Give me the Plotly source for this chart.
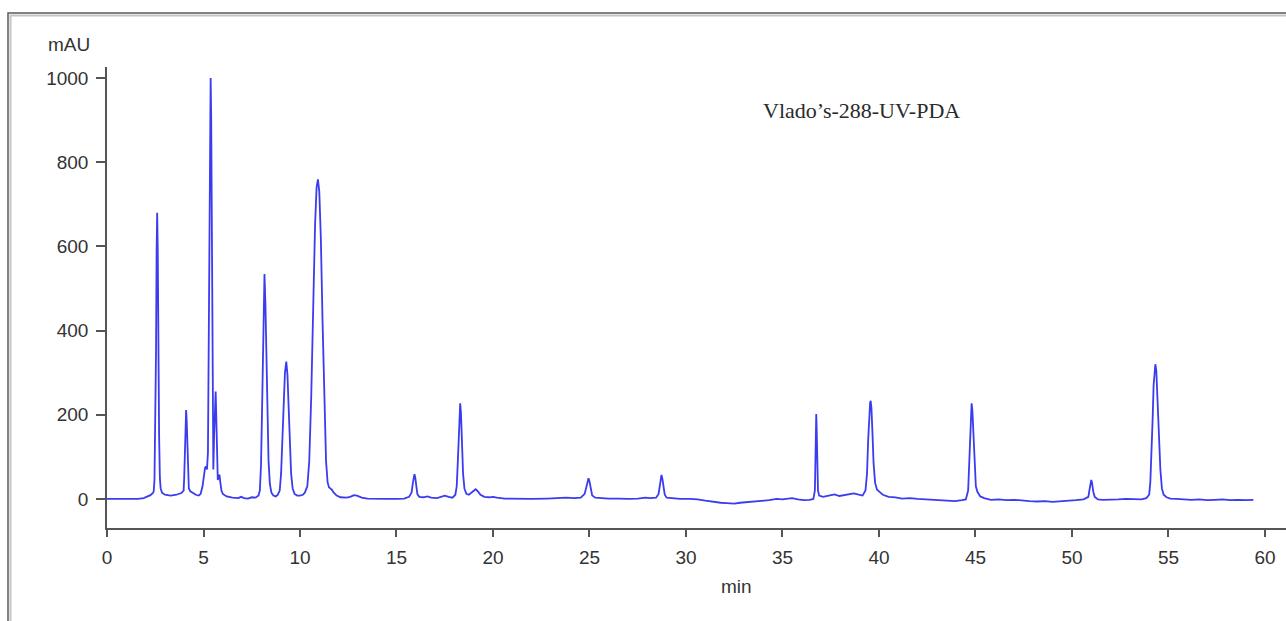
import plotly.graph_objects as go

# Retention time (min) and absorbance (mAU)
time_min = [
    0.0, 0.4, 0.8, 1.2, 1.6, 1.9, 2.1, 2.25, 2.38,
    2.42, 2.46, 2.50, 2.54, 2.57, 2.60, 2.63, 2.66, 2.70, 2.74, 2.78, 2.85, 3.0, 3.3, 3.6, 3.85,
    3.97, 4.00, 4.04, 4.07, 4.10, 4.13, 4.16, 4.20, 4.24, 4.32, 4.45, 4.6, 4.75, 4.85,
    4.95, 5.02, 5.08, 5.13, 5.18, 5.23, 5.27, 5.31, 5.34, 5.37, 5.40, 5.43, 5.47, 5.51, 5.55,
    5.60, 5.63, 5.66, 5.70, 5.74, 5.79, 5.83, 5.87, 5.93, 6.0, 6.2, 6.5, 6.8, 6.95, 7.1, 7.3,
    7.5, 7.7, 7.85,
    7.92, 7.98, 8.03, 8.07, 8.11, 8.16, 8.21, 8.26, 8.31, 8.37, 8.44, 8.52, 8.62, 8.75, 8.85,
    8.95, 9.02, 9.10, 9.16, 9.22, 9.29, 9.35, 9.41, 9.47, 9.54, 9.62, 9.72, 9.85, 10.0, 10.15, 10.25,
    10.38, 10.48, 10.58, 10.68, 10.78, 10.86, 10.93, 11.00, 11.08, 11.17, 11.26, 11.35, 11.43,
    11.50, 11.57, 11.65, 11.75, 11.9, 12.1, 12.4, 12.6, 12.8, 12.95, 13.2, 13.5, 14.0, 14.5,
    15.0, 15.4, 15.65,
    15.78, 15.85, 15.90, 15.93, 15.97, 16.02, 16.08, 16.18, 16.4, 16.6, 16.8, 17.1, 17.35, 17.5,
    17.7, 17.9, 18.05,
    18.12, 18.18, 18.23, 18.27, 18.30, 18.34, 18.39, 18.45, 18.52, 18.62, 18.75, 18.9, 19.0, 19.1,
    19.2, 19.35, 19.55, 19.8, 20.0, 20.2, 20.6, 21.2, 22.0, 22.8, 23.3, 23.8, 24.2, 24.55, 24.75,
    24.84, 24.90, 24.95, 25.00, 25.06, 25.14, 25.3, 25.6, 26.0, 26.5, 27.0, 27.5, 27.9, 28.15,
    28.45, 28.58,
    28.64, 28.69, 28.73, 28.77, 28.83, 28.90, 29.0, 29.3, 29.7, 30.2, 30.6, 31.0, 31.4, 31.8,
    32.1, 32.5, 32.8, 33.1, 33.4, 33.7, 34.0, 34.3, 34.7, 35.0, 35.3, 35.5, 35.8, 36.1, 36.4, 36.6,
    36.68, 36.71, 36.73, 36.75, 36.77, 36.80, 36.84, 36.9, 37.1, 37.4, 37.7, 37.95, 38.2, 38.5,
    38.7, 38.95, 39.15, 39.30,
    39.38, 39.44, 39.50, 39.54, 39.57, 39.61, 39.66, 39.72, 39.80, 39.9, 40.0, 40.2, 40.5, 40.85,
    41.2, 41.6, 42.0, 42.4, 42.8, 43.2, 43.6, 43.95, 44.3, 44.5, 44.62,
    44.66, 44.71, 44.75, 44.80, 44.84, 44.89, 44.95, 45.02, 45.1, 45.25, 45.45, 45.8, 46.2, 46.6,
    47.0, 47.4, 47.8, 48.2, 48.6, 49.0, 49.4, 49.8, 50.2, 50.6, 50.85,
    50.92, 50.97, 51.00, 51.04, 51.10, 51.18, 51.35, 51.6, 52.0, 52.4, 52.8, 53.2, 53.6, 53.85, 54.0,
    54.06, 54.12, 54.18, 54.23, 54.28, 54.32, 54.37, 54.43, 54.50, 54.58, 54.66, 54.75, 54.9, 55.1,
    55.4, 55.8, 56.2, 56.6, 57.0, 57.4, 57.8, 58.2, 58.6, 59.0, 59.4,
]

absorbance_mau = [
    0, 0, -1, 0, 0, 2, 5, 9, 14,
    18, 45, 150, 350, 590, 680, 590, 350, 150, 50, 25, 15, 10, 8, 10, 14,
    20, 50, 120, 185, 211, 185, 120, 50, 25, 18, 14, 10, 8, 12,
    30, 60, 74, 77, 70, 110, 350, 820, 980, 1000, 900, 560, 180, 70, 150,
    250, 255, 200, 80, 45, 55, 57, 40, 20, 12, 6, 3, 2, 5, 2, 1,
    4, 3, 8,
    20, 80, 200, 330, 460, 534, 460, 330, 200, 90, 35, 15, 8, 6, 10,
    20, 60, 150, 240, 300, 326, 295, 220, 130, 60, 25, 12, 8, 8, 10, 15,
    30, 90, 240, 460, 650, 740, 759, 730, 620, 420, 220, 90, 40,
    28, 25, 22, 15, 8, 4, 3, 5, 9, 8, 3, 1, 0, 0,
    0, 1, 5,
    15, 38, 55, 59, 52, 30, 12, 5, 4, 6, 3, 2, 6, 8,
    5, 3, 10,
    30, 90, 170, 218, 227, 205, 140, 60, 25, 12, 10, 15, 20, 23,
    19, 10, 5, 4, 5, 3, 1, 0, 0, 1, 2, 3, 2, 3, 12,
    30, 45, 49, 42, 22, 8, 3, 2, 1, 1, 0, 1, 3, 2,
    3, 12,
    35, 52, 57, 50, 28, 10, 3, 1, 0, 0, -1, -4, -7, -9,
    -10, -11, -9, -8, -7, -5, -5, -3, 0, -1, 1, 2, -1, -3, -2, 0,
    20, 90, 170, 202, 170, 80, 20, 8, 5, 8, 11, 7, 9, 12,
    13, 10, 8, 20,
    60, 140, 205, 228, 233, 215, 160, 85, 38, 22, 18, 10, 5, 4,
    1, 2, 0, -1, -2, -2, -3, -5, -3, -1, 20,
    70, 150, 205, 227, 210, 150, 75, 30, 17, 6, 2, -2, -1, -3,
    -2, -4, -5, -6, -5, -7, -6, -4, -3, -1, 5,
    25, 40, 45, 38, 18, 5, -1, -2, -2, -1, 0, 0, -1, 2, 10,
    40, 100, 190, 270, 312, 320, 305, 240, 150, 70, 25, 10, 4, 1,
    0, -1, -2, -1, -3, -2, -1, -3, -2, -3, -2,
]

x_ticks = [0, 5, 10, 15, 20, 25, 30, 35, 40, 45, 50, 55, 60]
y_ticks = [0, 200, 400, 600, 800, 1000]

W, H = 1286, 621
L, R, T, B = 107, 0, 67, 93
pw, ph = W - L - R, H - T - B


def px(x):
    return (x - L) / pw


def py(y):
    return (H - B - y) / ph


font_sans = "Liberation Sans, Arial, sans-serif"
axis_col = "#555555"

fig = go.Figure()
fig.add_trace(go.Scatter(
    x=time_min, y=absorbance_mau, mode="lines",
    line=dict(color="#3b3bef", width=1.8),
    showlegend=False, hoverinfo="x+y",
))

fig.update_layout(
    width=W, height=H,
    margin=dict(l=L, r=R, t=T, b=B, pad=0),
    paper_bgcolor="white", plot_bgcolor="white",
    font=dict(family=font_sans, size=19, color="#333333"),
    xaxis=dict(
        range=[0, 61.09], tickvals=x_ticks, showgrid=False, zeroline=False,
        showline=True, linecolor=axis_col, linewidth=1.5,
        ticks="outside", ticklen=7, tickwidth=1.5, tickcolor=axis_col,
        tickfont=dict(size=19, color="#333333"), ticklabelstandoff=4,
    ),
    yaxis=dict(
        range=[-69, 1026], tickvals=y_ticks, showgrid=False, zeroline=False,
        showline=True, linecolor=axis_col, linewidth=1.5,
        ticks="outside", ticklen=9, tickwidth=1.5, tickcolor=axis_col,
        tickfont=dict(size=19, color="#333333"), ticklabelstandoff=4,
    ),
    shapes=[
        dict(type="rect", xref="paper", yref="paper",
             x0=px(8), x1=px(1292), y0=py(630), y1=py(13),
             line=dict(color="#5a5a5a", width=1.5), layer="below"),
        dict(type="rect", xref="paper", yref="paper",
             x0=px(10.5), x1=px(1292), y0=py(630), y1=py(15.5),
             line=dict(color="#c4c4c4", width=2), layer="below"),
    ],
    annotations=[
        dict(text="mAU", xref="paper", yref="paper", x=px(69), y=py(45),
             xanchor="center", yanchor="middle", showarrow=False,
             font=dict(family=font_sans, size=19, color="#333333")),
        dict(text="min", xref="paper", yref="paper", x=px(736), y=py(586),
             xanchor="center", yanchor="middle", showarrow=False,
             font=dict(family=font_sans, size=19, color="#333333")),
        dict(text="Vlado\u2019s-288-UV-PDA", xref="paper", yref="paper",
             x=px(861), y=py(110), xanchor="center", yanchor="middle",
             showarrow=False,
             font=dict(family="Liberation Serif, Times New Roman, serif",
                       size=22, color="#2a2a2a")),
    ],
)

fig.write_html("out.html")
